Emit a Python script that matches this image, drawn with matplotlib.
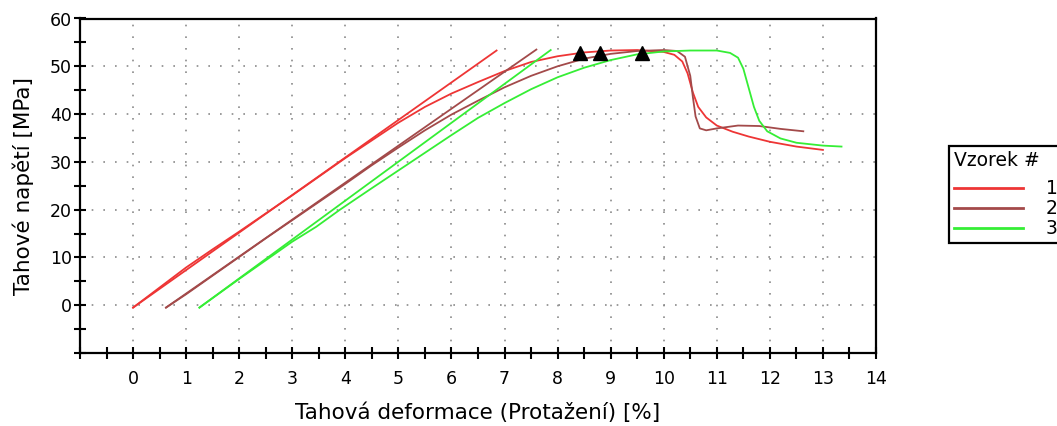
import matplotlib
matplotlib.use("Agg")
import matplotlib.pyplot as plt
import numpy as np

plt.rcParams["font.family"] = ["DejaVu Sans"]

# Vzorek 1
s1_x = [0.0, 0.5, 1.0, 1.5, 2.0, 2.5, 3.0, 3.5, 4.0, 4.5, 5.0, 5.5, 6.0, 6.5, 7.0, 7.5,
        8.0, 8.5, 9.0, 9.5, 10.0, 10.2, 10.35, 10.45, 10.55, 10.65, 10.8, 11.0, 11.3,
        11.6, 12.0, 12.5, 13.0]
s1_y = [-0.5, 3.7, 7.9, 11.7, 15.4, 19.2, 23.0, 26.9, 30.8, 34.5, 38.2, 41.5, 44.3, 46.7,
        49.0, 50.9, 52.1, 52.9, 53.3, 53.4, 53.0, 52.4, 51.0, 48.5, 44.5, 41.5, 39.3,
        37.6, 36.3, 35.3, 34.2, 33.2, 32.5]
s1_line_x = [0.0, 6.85]
s1_line_y = [-0.5, 53.3]

# Vzorek 2
s2_x = [0.62, 1.0, 1.5, 2.0, 2.5, 3.0, 3.5, 4.0, 4.5, 5.0, 5.5, 6.0, 6.5, 7.0, 7.5, 8.0,
        8.5, 9.0, 9.5, 10.0, 10.25, 10.4, 10.5, 10.55, 10.6, 10.68, 10.8, 11.0, 11.4,
        11.8, 12.2, 12.63]
s2_y = [-0.5, 2.3, 6.2, 10.1, 14.0, 17.8, 21.6, 25.4, 29.3, 33.0, 36.6, 39.9, 42.8, 45.6,
        48.0, 50.0, 51.6, 52.6, 53.2, 53.4, 53.2, 52.0, 48.0, 43.5, 39.5, 37.0, 36.6,
        37.0, 37.6, 37.5, 36.9, 36.4]
s2_line_x = [0.62, 7.6]
s2_line_y = [-0.5, 53.5]

# Vzorek 3
s3_x = [1.25, 1.5, 2.0, 2.5, 3.0, 3.45, 3.9, 4.5, 5.0, 5.5, 6.0, 6.5, 7.0, 7.5, 8.0, 8.5,
        9.0, 9.5, 10.0, 10.5, 11.0, 11.25, 11.4, 11.5, 11.6, 11.7, 11.8, 11.95, 12.2,
        12.5, 13.0, 13.35]
s3_y = [-0.5, 1.5, 5.5, 9.4, 13.3, 16.4, 20.0, 24.5, 28.2, 31.9, 35.6, 39.2, 42.3, 45.2,
        47.7, 49.7, 51.3, 52.5, 53.1, 53.3, 53.3, 52.8, 51.8, 49.5, 45.5, 41.5, 38.6,
        36.4, 34.9, 34.0, 33.4, 33.2]
s3_line_x = [1.25, 7.87]
s3_line_y = [-0.5, 53.4]

# maxima (trojuhelniky)
peak_x = [8.42, 8.80, 9.59]
peak_y = [52.8, 52.8, 52.8]

sample_labels = ["1", "2", "3"]
colors = ["#ee3535", "#a34a4a", "#35ee35"]

fig = plt.figure(figsize=(10.57, 4.26), dpi=100)
ax = fig.add_axes([80 / 1057, 1 - 353 / 426, (876 - 80) / 1057, (353 - 18.5) / 426])

curves = [(s1_x, s1_y, s1_line_x, s1_line_y),
          (s2_x, s2_y, s2_line_x, s2_line_y),
          (s3_x, s3_y, s3_line_x, s3_line_y)]
for (cx, cy, lx, ly), color, label in zip(curves, colors, sample_labels):
    ax.plot(lx, ly, color=color, lw=1.3)
    ax.plot(cx, cy, color=color, lw=1.3, label=label)

ax.plot(peak_x, peak_y, linestyle="none", marker="^", color="black", markersize=10)

ax.set_xlim(-1, 14)
ax.set_ylim(-10, 60)
ax.set_xticks(range(0, 15))
ax.set_xticks(np.arange(-1, 14.01, 0.5), minor=True)
ax.set_yticks(range(0, 61, 10))
ax.set_yticks(range(-10, 61, 5), minor=True)

for x in range(0, 14):
    ax.axvline(x, color="#8a8a8a", lw=1.2, linestyle=(0, (1, 6)), zorder=0)
for y in range(0, 51, 10):
    ax.axhline(y, color="#8a8a8a", lw=1.2, linestyle=(0, (1, 6)), zorder=0)

for side in ["left", "right", "top", "bottom"]:
    ax.spines[side].set_linewidth(1.6)
ax.tick_params(which="both", direction="inout", length=8, width=1.5, labelsize=12.5)
ax.tick_params(axis="x", which="major", pad=8)
ax.tick_params(axis="y", which="major", pad=2)

ax.set_xlabel("Tahová deformace (Protažení) [%]", fontsize=15.5, labelpad=11)
ax.set_ylabel("Tahové napětí [MPa]", fontsize=15.5, labelpad=11)

leg = fig.legend(loc="upper left", bbox_to_anchor=(949 / 1057, 1 - 146 / 426),
                 title="Vzorek #", fontsize=13.5, title_fontsize=13.5, alignment="left",
                 handlelength=3.7, handletextpad=1.2, borderpad=0.25, labelspacing=0.05,
                 fancybox=False, frameon=True, framealpha=1, borderaxespad=0)
leg._legend_box.sep = 7
leg.get_frame().set_edgecolor("black")
leg.get_frame().set_linewidth(1.6)
for line in leg.get_lines():
    line.set_linewidth(2)

fig.savefig("out.png", dpi=100)
